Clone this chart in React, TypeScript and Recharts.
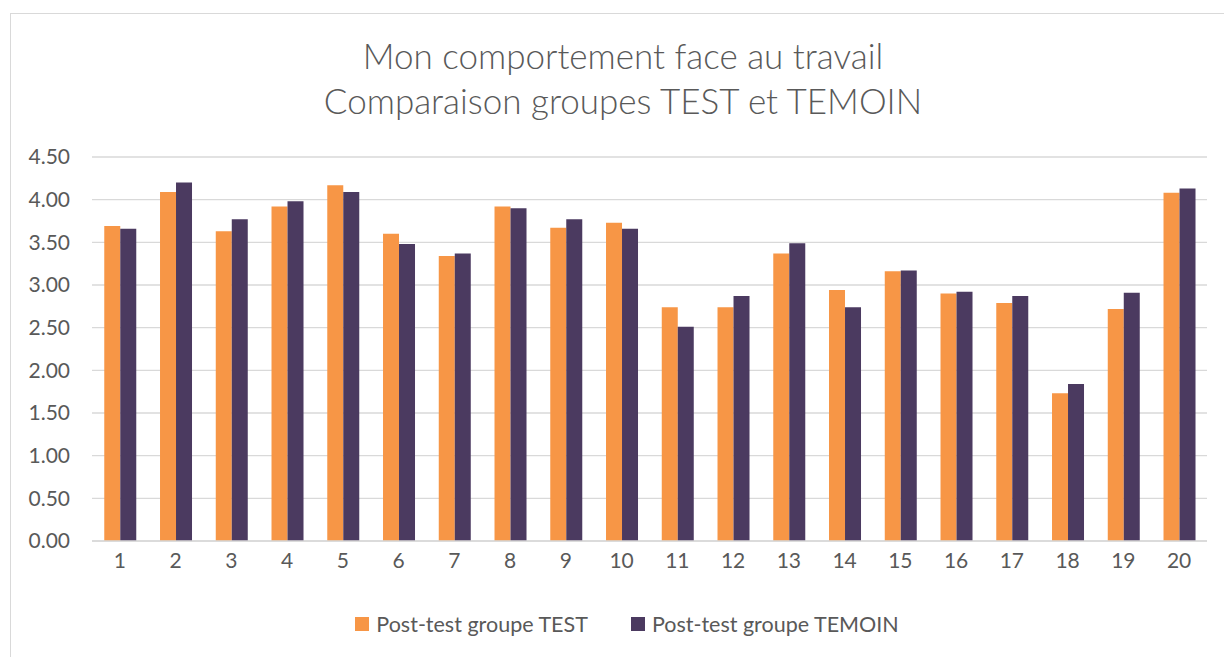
import { Bar, BarChart, CartesianGrid, XAxis, YAxis } from 'recharts';

const items = ['1', '2', '3', '4', '5', '6', '7', '8', '9', '10', '11', '12', '13', '14', '15', '16', '17', '18', '19', '20'];
const testValues = [3.69, 4.09, 3.63, 3.92, 4.17, 3.6, 3.34, 3.92, 3.67, 3.73, 2.74, 2.74, 3.37, 2.94, 3.16, 2.9, 2.79, 1.73, 2.72, 4.08];
const temoinValues = [3.66, 4.2, 3.77, 3.98, 4.09, 3.48, 3.37, 3.9, 3.77, 3.66, 2.51, 2.87, 3.49, 2.74, 3.17, 2.92, 2.87, 1.84, 2.91, 4.13];
const yTicks = [0, 0.5, 1, 1.5, 2, 2.5, 3, 3.5, 4, 4.5];

const series = [
  { key: 'test', label: 'Post-test groupe TEST', color: '#F79646' },
  { key: 'temoin', label: 'Post-test groupe TEMOIN', color: '#4B3A60' },
];

const data = items.map((item, i) => ({ item, test: testValues[i], temoin: temoinValues[i] }));

const FONT = 'Lato, "Open Sans", sans-serif';
const TEXT = '#595959';

export default function App() {
  return (
    <div style={{ position: 'fixed', left: 0, top: 0, width: 1224, height: 657, background: '#fff', overflow: 'hidden', fontFamily: FONT }}>
      {/* chart frame */}
      <div style={{ position: 'absolute', left: 10, top: 13, width: 1230, height: 660, border: '1px solid #d9d9d9', boxSizing: 'border-box' }} />

      <div style={{ position: 'absolute', left: 223, width: 800, top: 33, textAlign: 'center', color: TEXT, fontSize: 35, fontWeight: 300, lineHeight: '45px' }}>
        <div>Mon comportement face au travail</div>
        <div>Comparaison groupes TEST et TEMOIN</div>
      </div>

      <div style={{ position: 'absolute', left: 0, top: 0 }}>
        <BarChart width={1224} height={657} data={data} margin={{ top: 157, right: 17, bottom: 86, left: 0 }} barCategoryGap="22%" barGap={0}>
          <CartesianGrid horizontal vertical={false} stroke="#d9d9d9" strokeWidth={1.3} />
          <XAxis
            dataKey="item"
            height={30}
            tickSize={0}
            tickMargin={12}
            axisLine={{ stroke: '#d9d9d9', strokeWidth: 1.3 }}
            tickLine={false}
            tick={{ fill: TEXT, fontSize: 21, fontFamily: FONT }}
          />
          <YAxis
            width={92}
            domain={[0, 4.5]}
            ticks={yTicks}
            tickFormatter={(v: number) => v.toFixed(2)}
            tickSize={0}
            tickMargin={22}
            axisLine={false}
            tickLine={false}
            tick={{ fill: TEXT, fontSize: 21, fontFamily: FONT }}
          />
          {series.map((s) => (
            <Bar key={s.key} dataKey={s.key} name={s.label} fill={s.color} isAnimationActive={false} />
          ))}
        </BarChart>
      </div>

      <div style={{ position: 'absolute', left: 0, width: 1224, top: 611, display: 'flex', justifyContent: 'center', gap: 43, color: TEXT, fontSize: 21.5, paddingLeft: 30, boxSizing: 'border-box' }}>
        {series.map((s) => (
          <div key={s.key} style={{ display: 'flex', alignItems: 'center', gap: 7 }}>
            <span style={{ width: 14, height: 14, background: s.color, display: 'inline-block' }} />
            <span>{s.label}</span>
          </div>
        ))}
      </div>
    </div>
  );
}
